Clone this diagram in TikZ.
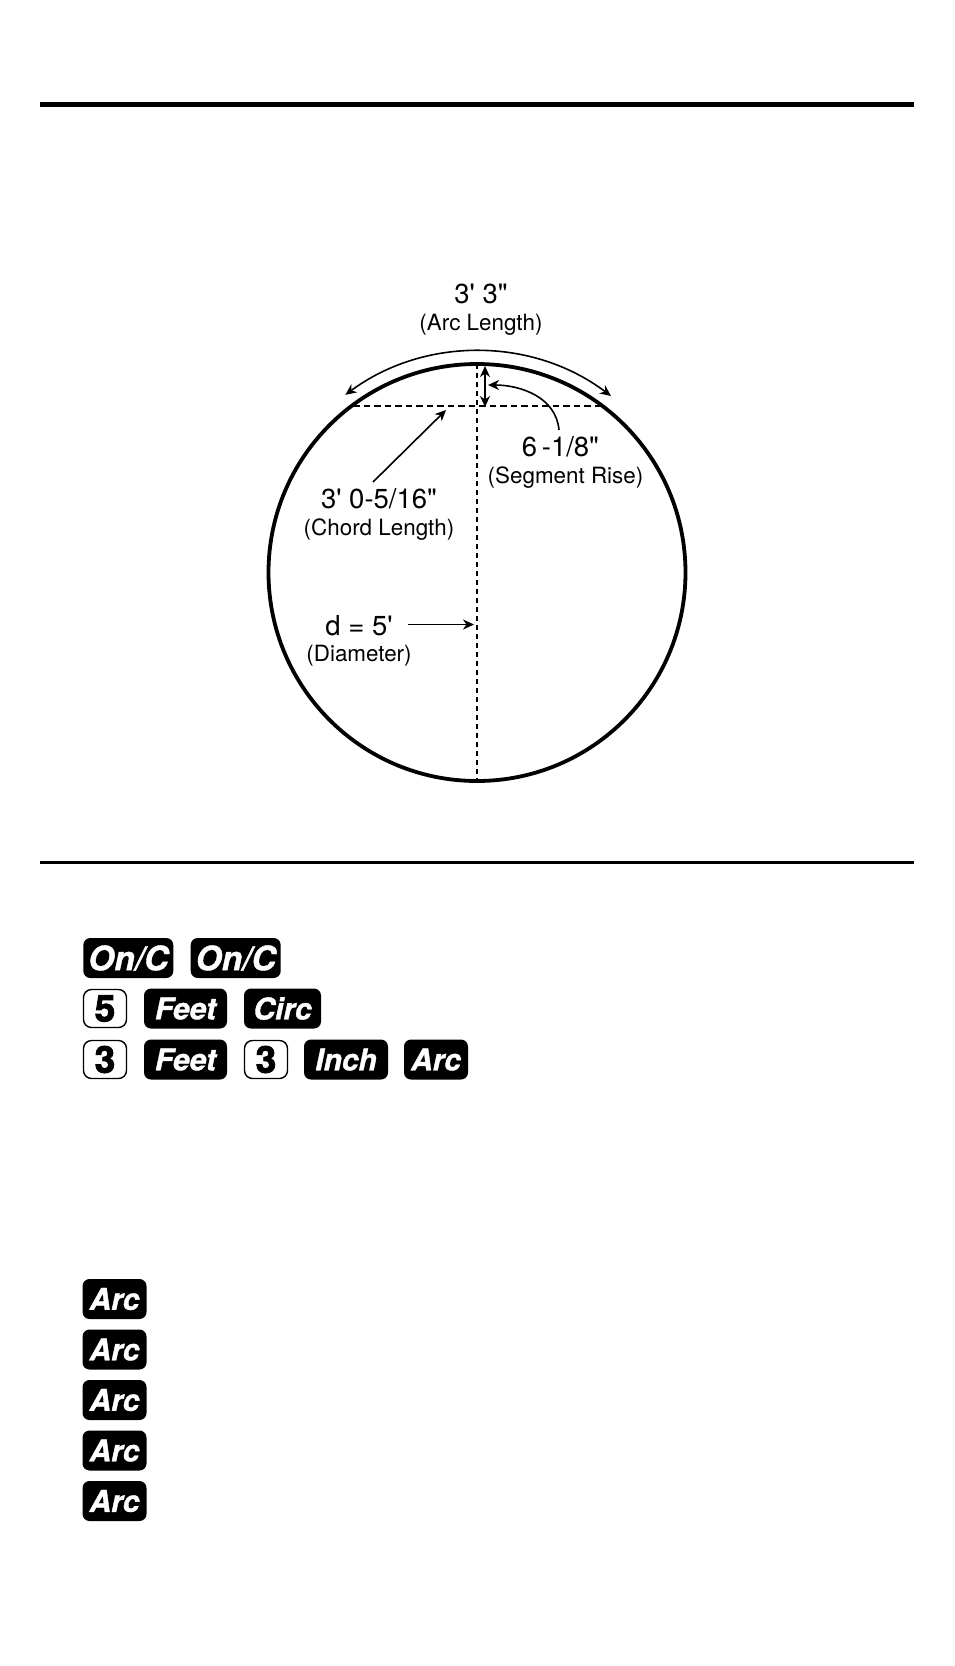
\documentclass[tikz,border=0pt]{standalone}
\usepackage{fontspec}
\usepackage{tikz}
\usetikzlibrary{positioning,arrows.meta}
\newfontfamily\labelfont{TeX Gyre Heros}
\newfontfamily\keyfont[FakeBold=1.2]{TeX Gyre Heros}
\newfontfamily\digitfont[FakeBold=2.5]{TeX Gyre Heros}

\begin{document}
\begin{tikzpicture}[x=1pt,y=1pt,on grid,>={Stealth[length=11pt,width=10pt,inset=3.5pt]}]
        \tikzstyle{every node}=[inner sep=0pt,outer sep=0pt]
        \tikzstyle{value}=[font=\labelfont\fontsize{27.5}{30}\selectfont]
        \tikzstyle{caption}=[font=\labelfont\fontsize{22.4}{26}\selectfont]
        \tikzstyle{keyblack}=[fill=black,text=white,rounded corners=7pt,minimum height=40pt,font=\keyfont\bfseries\itshape\fontsize{30}{30}\selectfont]
        \tikzstyle{keylong}=[keyblack,minimum width=90pt,font=\keyfont\bfseries\itshape\fontsize{33.5}{30}\selectfont]
        \tikzstyle{keywhite}=[draw=black,line width=1.4pt,rounded corners=8pt,minimum width=43pt,minimum height=38pt,font=\digitfont\bfseries\fontsize{37}{37}\selectfont]
        \tikzstyle{pointer}=[line width=1.6pt]
        \useasboundingbox (0,0) rectangle (954,-1666);
        % rules
        \coordinate (TopL) at (40,-104);
        \coordinate (TopR) at (914,-104);
        \coordinate (MidL) at (40,-862);
        \coordinate (MidR) at (914,-862);
        \draw[line width=5pt] (TopL) -- (TopR);
        \draw[line width=3pt] (MidL) -- (MidR);
        % circle
        \node[circle,draw,line width=3.8pt,minimum size=417pt] (Circ) at (477,-572.5) {};
        \coordinate (ChordL) at (353,-405.5);
        \coordinate (ChordR) at (601,-405.5);
        \draw[line width=2pt,dash pattern=on 5pt off 4pt] (Circ.north) -- (Circ.south);
        \draw[line width=2pt,dash pattern=on 6.5pt off 4pt] (ChordL) -- (ChordR);
        % labels
        \node[value] (Arc) at (481,-294) {3' 3"};
        \node[caption] (ArcCap) [below=31pt of Arc] {(Arc Length)};
        \node[value] (Rise) at (560.5,-447) {6\,-1/8"};
        \node[caption] (RiseCap) [below=31pt of Rise,xshift=5pt] {(Segment Rise)};
        \node[value] (Chord) at (379,-499) {3' 0-5/16"};
        \node[caption] (ChordCap) [below=31pt of Chord] {(Chord Length)};
        \node[value] (Dia) at (359,-625.5) {d = 5'};
        \node[caption] (DiaCap) [below=30pt of Dia] {(Diameter)};
        % arrows
        \coordinate (ArcR) at (611,-396);
        \coordinate (RiseTop) at (485,-366);
        \coordinate (RiseBot) at (485,-407);
        \coordinate (RiseEnd) at (488,-385);
        \coordinate (RiseStart) at (559,-430);
        \coordinate (ChordEnd) at (446,-410);
        \coordinate (ChordStart) at (373,-482);
        \coordinate (DiaStart) at (408,-624.5);
        \coordinate (DiaEnd) at (474,-624.5);
        \draw[<->,pointer] (ArcR) arc[start angle=53,end angle=126.5,radius=222pt];
        \path[pointer]
        (RiseTop) edge[<->,line width=2pt] (RiseBot)
        (RiseStart) edge[->,out=95,in=0] (RiseEnd)
        (ChordStart) edge[->] (ChordEnd)
        (DiaStart) edge[->] (DiaEnd);
        % keys
        \node[keylong] (OnA) at (128.3,-958) {On/C};
        \node[keylong] (OnB) [right=107.4pt of OnA] {On/C};
        \node[keywhite] (Five) at (105,-1008.5) {5};
        \node[keyblack,minimum width=83pt] (FeetA) [right=80.5pt of Five] {Feet};
        \node[keyblack,minimum width=77pt] (Circle) [right=97pt of FeetA] {Circ};
        \node[keywhite] (ThreeA) [below=51pt of Five] {3};
        \node[keyblack,minimum width=83pt] (FeetB) [right=80.5pt of ThreeA] {Feet};
        \node[keywhite] (ThreeB) [right=80.5pt of FeetB] {3};
        \node[keyblack,minimum width=84pt] (Inch) [right=80pt of ThreeB] {Inch};
        \node[keyblack,minimum width=64pt] (ArcA) [right=90pt of Inch] {Arc};
        \node[keyblack,minimum width=64pt] (ArcB) at (114.5,-1299) {Arc};
        \node[keyblack,minimum width=64pt] (ArcC) [below=50.5pt of ArcB] {Arc};
        \node[keyblack,minimum width=64pt] (ArcD) [below=50.5pt of ArcC] {Arc};
        \node[keyblack,minimum width=64pt] (ArcE) [below=50.5pt of ArcD] {Arc};
        \node[keyblack,minimum width=64pt] (ArcF) [below=50.5pt of ArcE] {Arc};
\end{tikzpicture}
\end{document}
